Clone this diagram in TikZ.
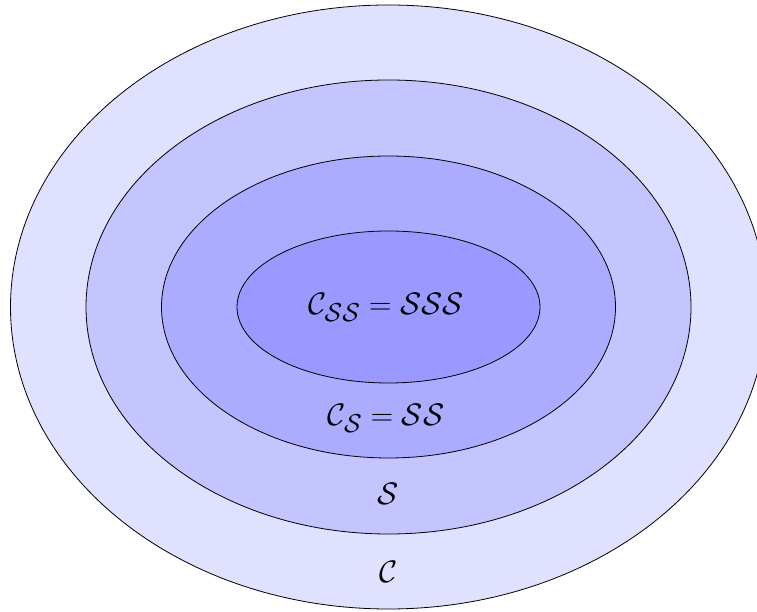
\documentclass[tikz,border=0pt]{standalone}
\usepackage{graphicx}
\usepackage{amsmath}
\newcommand{\bigtxt}[1]{\scalebox{1.25}{\Huge #1}}
\begin{document}
\begin{tikzpicture}[x=1pt,y=1pt,
  ring/.style={draw=black,line width=0.8pt},
  lbl/.style={inner sep=0pt}]
\useasboundingbox (0,0) rectangle (757,612);
\coordinate (c) at (388.5,305);
\fill[blue!12] (c) ellipse [x radius=378,y radius=302];
\draw[ring] (c) ellipse [x radius=378,y radius=302];
\fill[blue!23] (c) ellipse [x radius=302.5,y radius=227];
\draw[ring] (c) ellipse [x radius=302.5,y radius=227];
\fill[blue!33] (c) ellipse [x radius=227,y radius=151];
\draw[ring] (c) ellipse [x radius=227,y radius=151];
\fill[blue!40] (c) ellipse [x radius=151.5,y radius=76];
\draw[ring] (c) ellipse [x radius=151.5,y radius=76];
\node[lbl] (css) at (386,305) {\bigtxt{$\mathcal{C}_{\mathcal{SS}} = \mathcal{SSS}$}};
\node[lbl] (cs) at (386,194) {\bigtxt{$\mathcal{C}_{\mathcal{S}} = \mathcal{SS}$}};
\node[lbl] (s) at (388,118) {\bigtxt{$\mathcal{S}$}};
\node[lbl] (cc) at (389,40) {\bigtxt{$\mathcal{C}$}};
\end{tikzpicture}
\end{document}
